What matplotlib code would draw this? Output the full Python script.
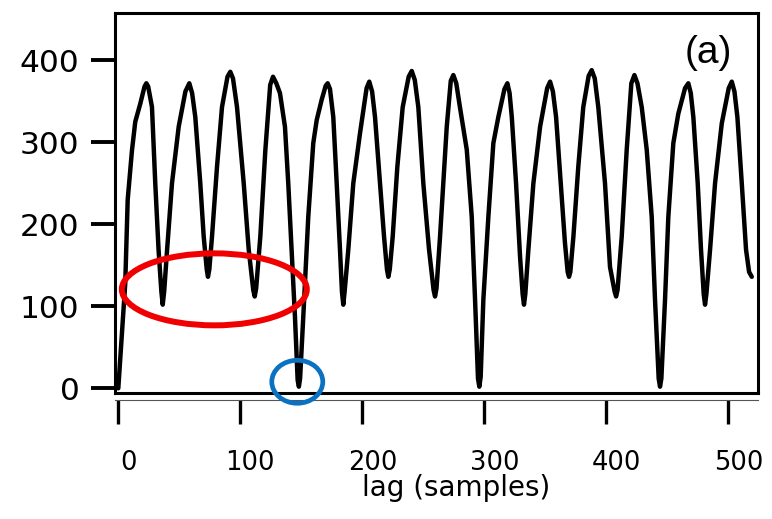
import matplotlib
matplotlib.use("Agg")
import matplotlib.pyplot as plt
from matplotlib.patches import Ellipse
import matplotlib.transforms as mtransforms

# Data (lag in samples, difference-function value)
lag = [0, 5.7, 7.7, 11.2, 13.9, 18, 21.5, 23, 24.5, 27.6, 30.3, 33, 35.3, 36.4, 37.6,
       40, 44, 49.5, 55, 58.2, 60.5, 63.1, 67.2, 70, 72.5, 73.5, 74.6, 76.8, 80.9, 85,
       89.5, 91.8, 94, 97.3, 102.8, 106.9, 110.6, 111.8, 113, 116.4, 120.5, 124.5, 126.8,
       129.5, 132.5, 136.6, 139.3, 142, 144.8, 147, 148, 149, 151.6, 155.7, 159.8, 162.6,
       166.7, 170, 171.6, 173.5, 176.2, 179, 181.7, 183.3, 184.4, 185.5, 188.5, 192.6,
       198.1, 203.5, 205.7, 208, 210.4, 214.5, 217.8, 220.2, 221.3, 222.5, 224.9, 228.7,
       233.1, 238, 240.5, 243, 245.9, 250, 254.7, 258.4, 259.6, 260.8, 263.7, 269.2,
       272.5, 274.6, 277, 280, 285.6, 289.7, 292.4, 294.8, 295.9, 297, 299.2, 303.3,
       307.4, 311.5, 316.5, 318.9, 320.7, 322.5, 326, 329.3, 331.4, 332.5, 333.6, 336.1,
       340.2, 345.7, 351.5, 353.9, 356.2, 358.8, 362.6, 366.1, 368.3, 369.4, 370.5, 373,
       377, 381.1, 385.5, 388, 390.5, 393.4, 398.9, 403, 406.8, 408, 409.2, 412.6, 416.7,
       420.5, 423, 425.5, 429, 433.1, 437.2, 439.9, 442.9, 444, 445.1, 448.1, 450.8,
       454.9, 459, 464.5, 467.2, 469.2, 471.3, 474.9, 477.6, 479.8, 480.9, 482, 485,
       489.1, 494.6, 500.3, 502.8, 505, 507.4, 511, 514.5, 517, 519.2]
value = [0, 128, 230, 290, 325, 347, 368, 372, 368, 343, 250, 169, 118, 102, 118,
         169, 250, 319, 362, 372, 360, 331, 250, 185, 145, 136, 145, 185, 270, 343,
         380, 386, 378, 343, 250, 169, 120, 112, 122, 185, 290, 370, 380,
         372, 360, 319, 250, 169, 87, 10, 2, 12, 87, 209, 299, 327,
         352, 369, 372, 365, 331, 250, 169, 118, 102, 118, 169, 250,
         311, 366, 374, 362, 331, 250, 185, 145, 136, 145, 185, 270,
         343, 380, 387, 376, 343, 250, 169, 120, 112, 122, 185, 319,
         375, 382, 372, 343, 291, 209, 108, 12, 2, 14, 108, 209,
         299, 331, 365, 372, 360, 331, 250, 160, 115, 102, 115, 169,
         250, 319, 366, 374, 362, 331, 250, 177, 142, 136, 142, 185,
         270, 343, 381, 388, 378, 343, 250, 148, 118, 112, 120, 185, 291,
         372, 382, 372, 343, 291, 209, 108, 12, 2, 12, 108, 209,
         299, 335, 366, 372, 360, 331, 250, 169, 115, 102, 115, 169,
         250, 323, 366, 374, 362, 331, 250, 169, 142, 136]

xticks = [0, 100, 200, 300, 400, 500]
yticks = [0, 100, 200, 300, 400]
panel_label = "(a)"
xlabel = "lag (samples)"

DPI = 100
fig = plt.figure(figsize=(7.72, 5.19), dpi=DPI)
ax = fig.add_axes([115/772, 1 - 393/519, (758-115)/772, (393-13)/519])

ax.plot(lag, value, color="black", lw=3.2, solid_joinstyle="round",
        solid_capstyle="round", zorder=2)

ax.set_xlim(-2.7, 524.3)
ax.set_ylim(-5.7, 457.7)

for s in ["top", "left", "right"]:
    ax.spines[s].set_linewidth(2.2)
ax.spines["bottom"].set_position(("outward", 5))
ax.spines["bottom"].set_linewidth(0.8)
ax.spines["bottom"].set_color("#555555")
# box bottom line
ax.plot([0, 1], [0, 0], transform=ax.transAxes, color="black", lw=2.2,
        clip_on=False, zorder=3)

ax.set_xticks(xticks)
ax.set_yticks(yticks)
ax.tick_params(axis="x", direction="out", length=17, width=2.4, pad=19,
               labelsize=18.5)
ax.tick_params(axis="y", direction="out", length=17, width=2.8, pad=8.5,
               labelsize=22.5)
for lab in ax.get_xticklabels() + ax.get_yticklabels():
    lab.set_family("DejaVu Sans")

offset = mtransforms.ScaledTranslation(10/DPI, 0, fig.dpi_scale_trans)
for lab in ax.get_xticklabels():
    lab.set_transform(lab.get_transform() + offset)

fig.text(456.5/772, 23/519, xlabel, ha="center", va="baseline",
         fontsize=20, family="DejaVu Sans")

ax.text(708/772, 1 - 53/519, panel_label, transform=fig.transFigure,
        ha="center", va="center", fontsize=28, family="Liberation Sans")

# annotations
ax.add_patch(Ellipse((78.7, 120.7), 151.6, 87.8, fill=False,
                     edgecolor="#f00000", lw=4.3, zorder=4))
ax.add_patch(Ellipse((146.7, 8), 41.8, 52.4, fill=False,
                     edgecolor="#0b72c2", lw=3.4, zorder=4, clip_on=False))

fig.savefig("out.png", dpi=DPI)
